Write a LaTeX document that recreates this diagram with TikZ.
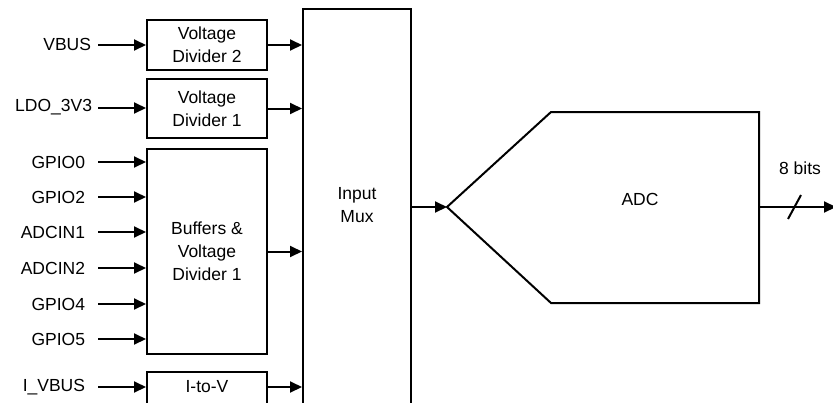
\documentclass[tikz,border=0pt]{standalone}
\usepackage{fontspec}
\setmainfont{Liberation Sans}
\usetikzlibrary{arrows.meta}
\begin{document}
\begin{tikzpicture}[x=1pt,y=-1pt,
  line width=2pt,
  every node/.style={font=\fontsize{17.5}{23}\selectfont, inner sep=0pt},
  blk/.style={draw, rectangle, minimum width=120pt, align=center},
  lbl/.style={anchor=east},
  arr/.style={-{Triangle[length=12pt,width=11pt]}},
]
\useasboundingbox (0,0) rectangle (833,402);
\clip (0,0) rectangle (833,402);

% blocks
\node[blk, minimum height=50pt] (vd2) at (207,45) {Voltage\\Divider 2};
\node[blk, minimum height=59pt] (vd1) at (207,108.5) {Voltage\\Divider 1};
\node[blk, minimum height=205pt] (buf) at (207,251.5) {Buffers \&\\Voltage\\Divider 1};
\node[blk, minimum height=60pt, anchor=north] (itv) at (207,371) {};
\node (itvt) at (207,387) {I-to-V};
\node[draw, rectangle, minimum width=108pt, minimum height=440pt, anchor=north] (mux) at (357,8) {};
\node[align=center] (muxt) at (357,205) {Input\\Mux};

% input labels
\node[lbl] (l1) at (92,44) {VBUS};
\node[lbl] (l2) at (93,107) {LDO\_3V3};
\node[lbl] (l3) at (86,162) {GPIO0};
\node[lbl] (l4) at (86,197) {GPIO2};
\node[lbl] (l5) at (86,232) {ADCIN1};
\node[lbl] (l6) at (86,268) {ADCIN2};
\node[lbl] (l7) at (86,304) {GPIO4};
\node[lbl] (l8) at (86,339) {GPIO5};
\node[lbl] (l9) at (86,387) {I\_VBUS};

\foreach \n/\y in {a1/45,a2/108,a3/162,a4/197,a5/232,a6/268,a7/304,a8/339,a9/387}{
  \coordinate (s\n) at (98,\y);
}
\draw[arr] (sa1) -- (sa1 -| vd2.west);
\draw[arr] (sa2) -- (sa2 -| vd1.west);
\foreach \n in {a3,a4,a5,a6,a7,a8}{
  \draw[arr] (s\n) -- (s\n -| buf.west);
}
\draw[arr] (sa9) -- (sa9 -| itv.west);

% block outputs to mux
\draw[arr] (vd2.east) -- (vd2.east -| mux.west);
\draw[arr] (vd1.east) -- (vd1.east -| mux.west);
\draw[arr] (buf.east) -- (buf.east -| mux.west);
\draw[arr] (itvt -| itv.east) -- (itvt -| mux.west);

% ADC
\coordinate (tip) at (447,207);
\coordinate (tl) at (551,112);
\coordinate (tr) at (759,112);
\coordinate (br) at (759,303);
\coordinate (bl) at (551,303);
\draw[line join=miter] (tip) -- (tl) -- (tr) -- (br) -- (bl) -- cycle;
\node (adc) at (640,199) {ADC};
\coordinate (muxout) at (411,207);
\draw[arr] (muxout) -- (tip);

% output
\coordinate (adcout) at (759,207);
\coordinate (outend) at (836,207);
\draw[arr] (adcout) -- (outend);
\coordinate (sl1) at (788,219);
\coordinate (sl2) at (801,195);
\draw (sl1) -- (sl2);
\node (bits) at (800,168) {8 bits};
\end{tikzpicture}
\end{document}
